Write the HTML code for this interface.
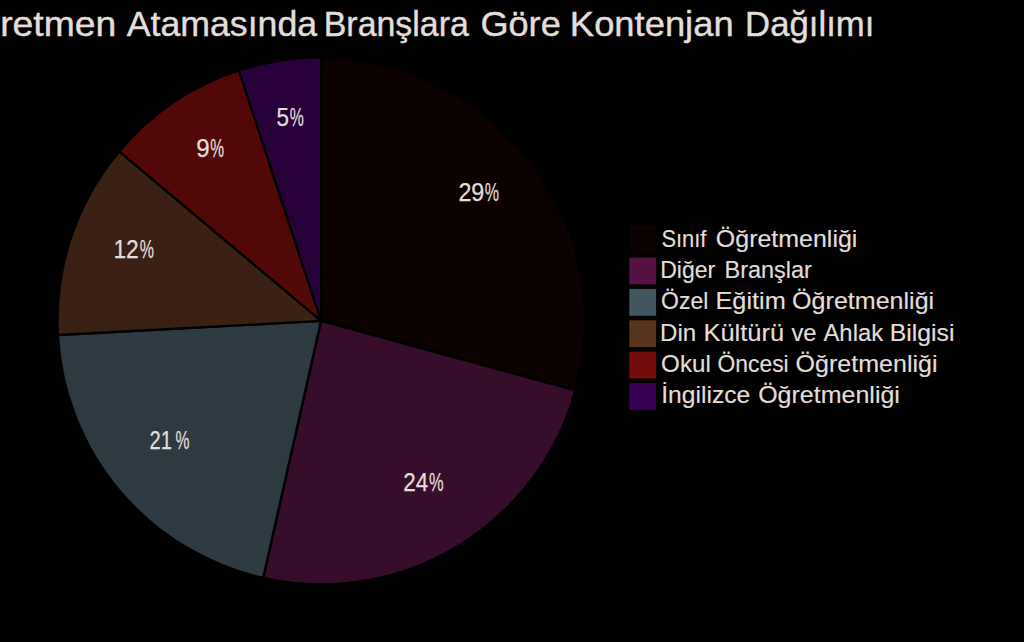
<!DOCTYPE html>
<html lang="tr">
<head>
<meta charset="utf-8">
<title>Öğretmen Atamasında Branşlara Göre Kontenjan Dağılımı</title>
<style>
html,body{margin:0;padding:0;background:#000;overflow:hidden;}
svg{display:block;}
text{font-family:"Liberation Sans","DejaVu Sans",sans-serif;fill:#e2deda;stroke:#e2deda;stroke-linejoin:round;}
.title text{font-size:35.0px;stroke-width:0.4px;}
.legend text{font-size:23.9px;stroke-width:0.15px;}
.pct text{font-size:25.2px;stroke-width:0.25px;}
</style>
</head>
<body>
<svg width="1024" height="642" viewBox="0 0 1024 642">
<rect width="1024" height="642" fill="#000"/>
<g class="pie" stroke="#000" stroke-width="2.4" stroke-linejoin="round">
<path d="M321.1 320.85 L321.10 57.25 A263.60 263.60 0 0 1 575.36 390.41 Z" fill="#0b0101"/>
<path d="M321.1 320.85 L575.36 390.41 A263.60 263.60 0 0 1 263.15 578.00 Z" fill="#380c2b"/>
<path d="M321.1 320.85 L263.15 578.00 A263.60 263.60 0 0 1 57.88 334.97 Z" fill="#2e3a41"/>
<path d="M321.1 320.85 L57.88 334.97 A263.60 263.60 0 0 1 119.17 151.41 Z" fill="#3a2114"/>
<path d="M321.1 320.85 L119.17 151.41 A263.60 263.60 0 0 1 238.90 70.39 Z" fill="#530808"/>
<path d="M321.1 320.85 L238.90 70.39 A263.60 263.60 0 0 1 321.10 57.25 Z" fill="#28003a"/>
</g>
<g class="squares">
<rect x="629.3" y="226.20" width="26.8" height="26.8" fill="#0d0202"/>
<rect x="629.3" y="257.57" width="26.8" height="26.8" fill="#561242"/>
<rect x="629.3" y="288.94" width="26.8" height="26.8" fill="#435760"/>
<rect x="629.3" y="320.31" width="26.8" height="26.8" fill="#5a351d"/>
<rect x="629.3" y="351.68" width="26.8" height="26.8" fill="#760d0d"/>
<rect x="629.3" y="383.05" width="26.8" height="26.8" fill="#3a0054"/>
</g>
<g class="title">
<text y="35.8"><tspan x="-50" textLength="48" lengthAdjust="spacingAndGlyphs">Öğ</tspan><tspan id="t0" x="0.16" textLength="116.13" lengthAdjust="spacingAndGlyphs">retmen</tspan></text>
<text id="t1" x="126.65" y="35.8" textLength="190.56" lengthAdjust="spacingAndGlyphs">Atamasında</text>
<text id="t2" x="323.72" y="35.8" textLength="145.13" lengthAdjust="spacingAndGlyphs">Branşlara</text>
<text id="t3" x="480.46" y="35.8" textLength="80.28" lengthAdjust="spacingAndGlyphs">Göre</text>
<text id="t4" x="569.88" y="35.8" textLength="163.77" lengthAdjust="spacingAndGlyphs">Kontenjan</text>
<text id="t5" x="745.12" y="35.8" textLength="129.34" lengthAdjust="spacingAndGlyphs">Dağılımı</text>
</g>
<g class="legend">
<text id="l0_0" x="661.41" y="246.8" textLength="45.02" lengthAdjust="spacingAndGlyphs">Sınıf</text>
<text id="l0_1" x="715.88" y="246.8" textLength="141.50" lengthAdjust="spacingAndGlyphs">Öğretmenliği</text>
<text id="l1_0" x="660.23" y="278.1" textLength="55.04" lengthAdjust="spacingAndGlyphs">Diğer</text>
<text id="l1_1" x="724.52" y="278.1" textLength="87.38" lengthAdjust="spacingAndGlyphs">Branşlar</text>
<text id="l2_0" x="661.06" y="309.4" textLength="47.24" lengthAdjust="spacingAndGlyphs">Özel</text>
<text id="l2_1" x="715.51" y="309.4" textLength="70.29" lengthAdjust="spacingAndGlyphs">Eğitim</text>
<text id="l2_2" x="792.13" y="309.4" textLength="142.03" lengthAdjust="spacingAndGlyphs">Öğretmenliği</text>
<text id="l3_0" x="660.13" y="340.7" textLength="36.14" lengthAdjust="spacingAndGlyphs">Din</text>
<text id="l3_1" x="703.43" y="340.7" textLength="80.74" lengthAdjust="spacingAndGlyphs">Kültürü</text>
<text id="l3_2" x="791.43" y="340.7" textLength="25.13" lengthAdjust="spacingAndGlyphs">ve</text>
<text id="l3_3" x="823.46" y="340.7" textLength="59.67" lengthAdjust="spacingAndGlyphs">Ahlak</text>
<text id="l3_4" x="889.75" y="340.7" textLength="64.78" lengthAdjust="spacingAndGlyphs">Bilgisi</text>
<text id="l4_0" x="661.10" y="372.0" textLength="49.65" lengthAdjust="spacingAndGlyphs">Okul</text>
<text id="l4_1" x="717.60" y="372.0" textLength="71.05" lengthAdjust="spacingAndGlyphs">Öncesi</text>
<text id="l4_2" x="795.54" y="372.0" textLength="141.98" lengthAdjust="spacingAndGlyphs">Öğretmenliği</text>
<text id="l5_0" x="661.29" y="403.3" textLength="88.92" lengthAdjust="spacingAndGlyphs">İngilizce</text>
<text id="l5_1" x="758.15" y="403.3" textLength="141.78" lengthAdjust="spacingAndGlyphs">Öğretmenliği</text>
</g>
<g class="pct">
<text y="200.9"><tspan id="p0a" x="458.40" textLength="25.96" lengthAdjust="spacingAndGlyphs">29</tspan><tspan id="p0b" x="484.72" textLength="14.24" lengthAdjust="spacingAndGlyphs">%</tspan></text>
<text y="490.9"><tspan id="p1a" x="403.16" textLength="24.99" lengthAdjust="spacingAndGlyphs">24</tspan><tspan id="p1b" x="428.99" textLength="14.57" lengthAdjust="spacingAndGlyphs">%</tspan></text>
<text y="449.0"><tspan id="p2a" x="149.49" textLength="22.42" lengthAdjust="spacingAndGlyphs">21</tspan><tspan id="p2b" x="175.38" textLength="13.94" lengthAdjust="spacingAndGlyphs">%</tspan></text>
<text y="258.2"><tspan id="p3a" x="113.47" textLength="25.29" lengthAdjust="spacingAndGlyphs">12</tspan><tspan id="p3b" x="139.71" textLength="14.22" lengthAdjust="spacingAndGlyphs">%</tspan></text>
<text y="157.0"><tspan id="p4a" x="196.16" textLength="13.40" lengthAdjust="spacingAndGlyphs">9</tspan><tspan id="p4b" x="210.14" textLength="13.85" lengthAdjust="spacingAndGlyphs">%</tspan></text>
<text y="125.5"><tspan id="p5a" x="276.59" textLength="12.44" lengthAdjust="spacingAndGlyphs">5</tspan><tspan id="p5b" x="289.64" textLength="14.07" lengthAdjust="spacingAndGlyphs">%</tspan></text>
</g>
</svg>
</body>
</html>
